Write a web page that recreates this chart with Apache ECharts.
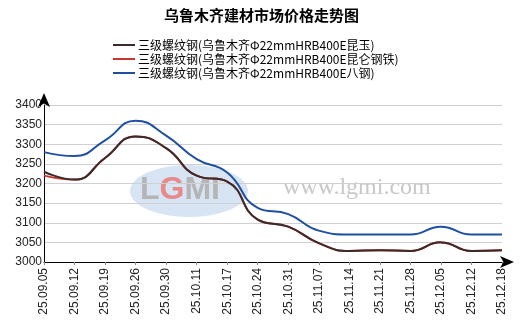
<!DOCTYPE html>
<html><head><meta charset="utf-8">
<script src="https://cdn.jsdelivr.net/npm/echarts@6/dist/echarts.min.js"></script>
<style>html,body{margin:0;padding:0;background:#fff}#c{width:523px;height:334px}</style>
</head><body><div id="c"></div>
<script>
const categories = ['25.09.05','25.09.12','25.09.19','25.09.26','25.09.30','25.10.11','25.10.17','25.10.24','25.10.31','25.11.07','25.11.14','25.11.21','25.11.28','25.12.05','25.12.12','25.12.18'];
const seriesNames = ['三级螺纹钢(乌鲁木齐Φ22mmHRB400E昆玉)','三级螺纹钢(乌鲁木齐Φ22mmHRB400E昆仑钢铁)','三级螺纹钢(乌鲁木齐Φ22mmHRB400E八钢)'];
const kunyu = [3230,3210,3265,3320,3290,3220,3205,3108,3090,3048,3028,3030,3028,3050,3028,3030];
const kunlun = [3220,3210,3265,3320,3290,3220,3205,3108,3090,3048,3028,3030,3028,3050,3028,3030];
const bagang = [3280,3270,3310,3360,3322,3262,3228,3138,3122,3080,3070,3070,3070,3090,3070,3070];
const yTicks = [3000,3400,50];

const chart = echarts.init(document.getElementById('c'), null, {renderer:'canvas'});
const colors = ['#3b2b2b','#c8372d','#1f4fa0'];
const font = '"Liberation Sans", Arial, sans-serif';
chart.setOption({
  animation:false,
  title:{text:'乌鲁木齐建材市场价格走势图',left:'center',top:3,textStyle:{fontSize:15,fontWeight:'bold',color:'#000',fontFamily:'"Noto Sans CJK SC", sans-serif'}},
  legend:{orient:'vertical',left:108,top:34,itemWidth:22,itemHeight:2,itemGap:2,icon:'rect',
    textStyle:{fontSize:12,color:'#000',fontFamily:'"Noto Sans CJK SC", sans-serif',padding:[0,0,0,-2]},
    data:[seriesNames[0],seriesNames[1],seriesNames[2]]},
  grid:{left:44,right:21,top:105,bottom:72,containLabel:false},
  graphic:[
    {type:'ellipse',z:-1,shape:{cx:189,cy:191,rx:59,ry:26},style:{fill:'#d6e4f4'}},
    {type:'text',z:-1,left:140,top:174,style:{text:'{g|L}{r|G}{g|MI}',rich:{g:{fill:'#b5b5b5',font:'bold 32px "Liberation Sans", Arial'},r:{fill:'#e88a8a',font:'bold 32px "Liberation Sans", Arial'}}}},
    {type:'text',z:-1,left:283,top:176,style:{text:'www.lgmi.com',fill:'#c8c8c8',font:'24px "Liberation Serif", "DejaVu Serif", serif'}}
  ],
  xAxis:{type:'category',data:categories,boundaryGap:false,
    axisLine:{lineStyle:{color:'#000',width:1},symbol:['none','arrow'],symbolSize:[9,14],symbolOffset:[0,12]},
    axisTick:{show:true,length:3,lineStyle:{color:'#888'}},
    axisLabel:{rotate:90,fontSize:12,color:'#222',fontFamily:font,margin:6,interval:0},
    splitLine:{show:false}},
  yAxis:{type:'value',min:yTicks[0],max:yTicks[1],interval:yTicks[2],
    axisLine:{show:true,lineStyle:{color:'#000',width:1},symbol:['none','arrow'],symbolSize:[9,14],symbolOffset:[0,12]},
    axisTick:{show:false},
    axisLabel:{fontSize:12,color:'#222',fontFamily:font,margin:2,formatter:v=>String(v)},
    splitLine:{lineStyle:{color:'#d0d0d0',width:1}}},
  series:[
    {name:seriesNames[1],type:'line',data:kunlun,smooth:true,showSymbol:false,lineStyle:{color:colors[1],width:2},itemStyle:{color:colors[1]},z:1},
    {name:seriesNames[0],type:'line',data:kunyu,smooth:true,showSymbol:false,lineStyle:{color:colors[0],width:2},itemStyle:{color:colors[0]},z:2},
    {name:seriesNames[2],type:'line',data:bagang,smooth:true,showSymbol:false,lineStyle:{color:colors[2],width:2},itemStyle:{color:colors[2]},z:3}
  ]
});
</script></body></html>
